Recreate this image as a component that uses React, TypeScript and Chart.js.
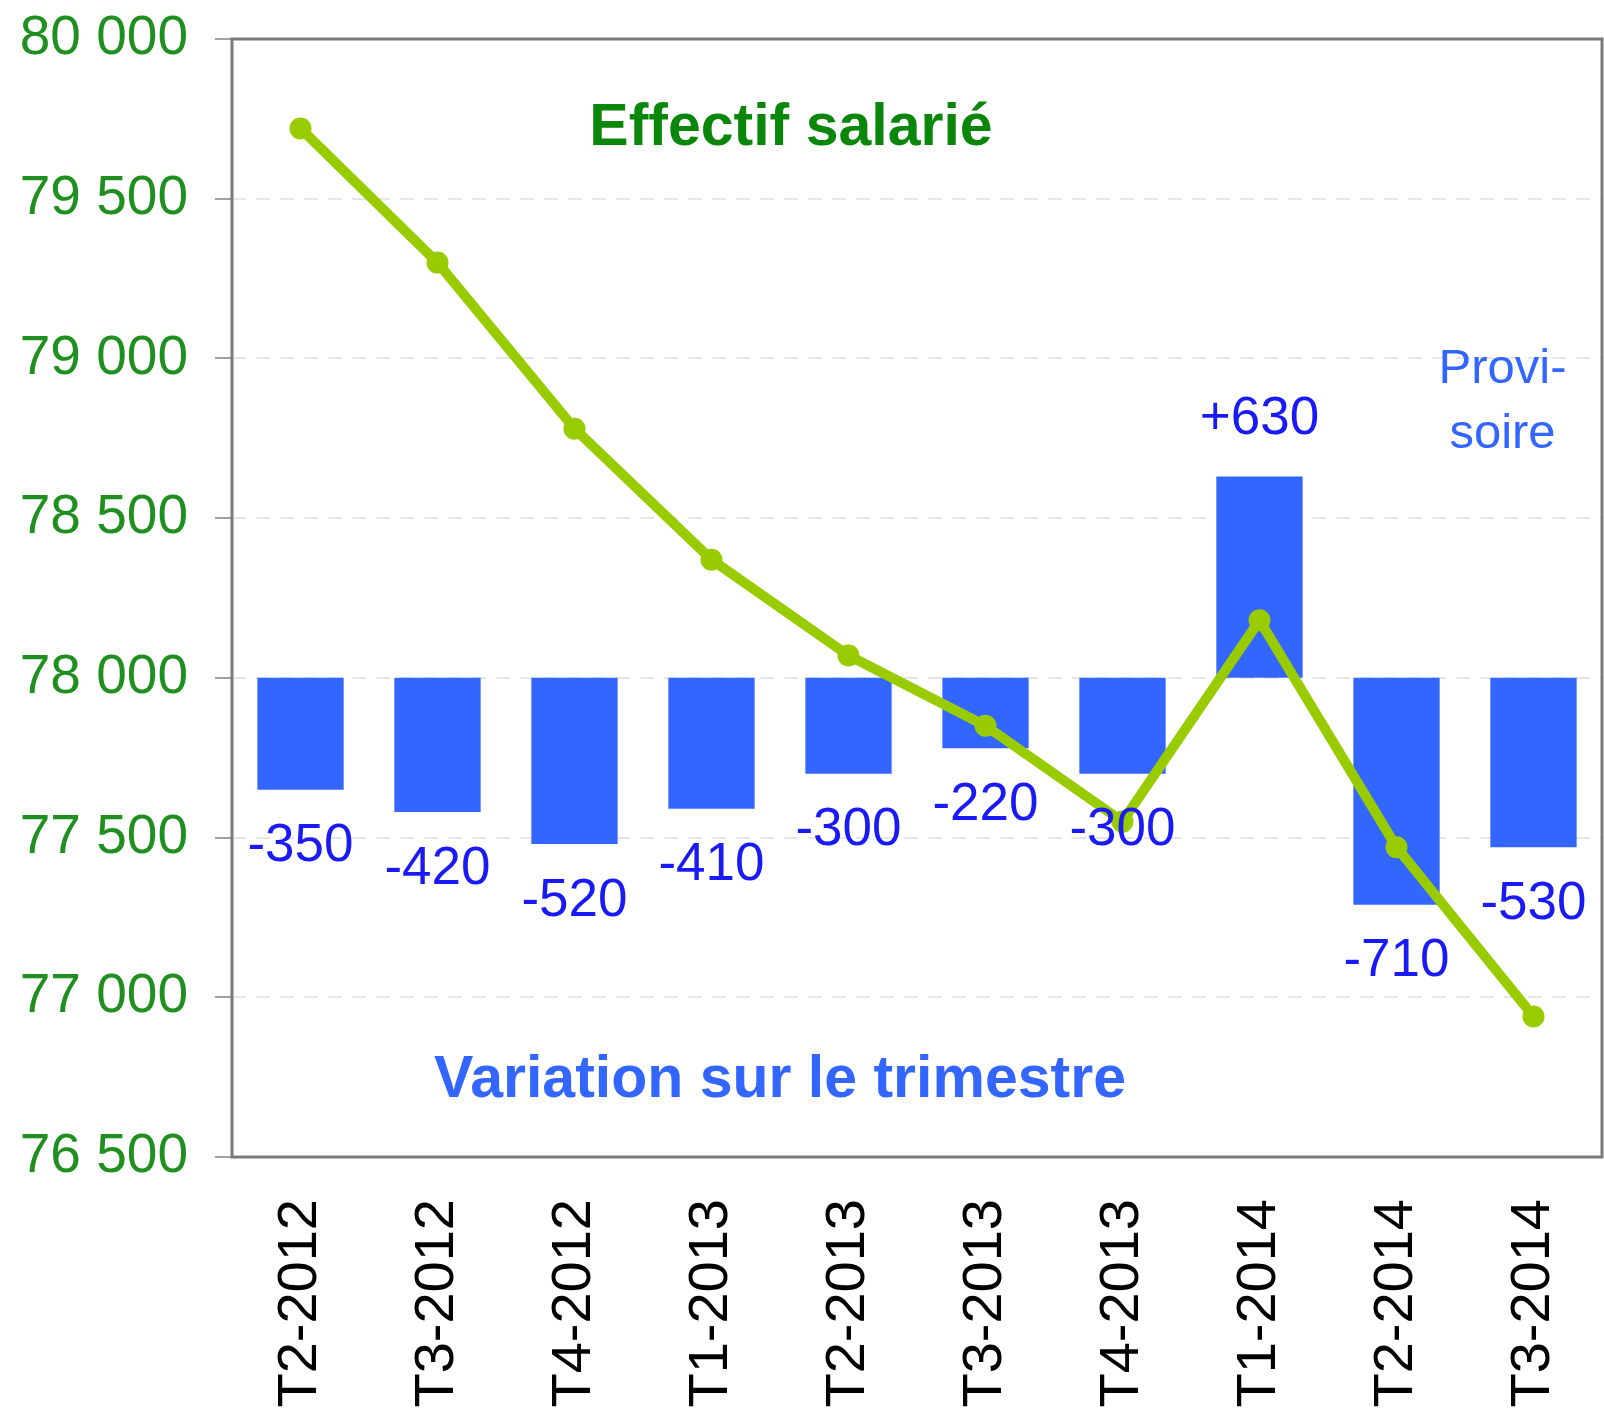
import React, { useEffect, useRef } from "react";
import { Chart, registerables } from "chart.js";

Chart.register(...registerables);

const categories = ["T2-2012", "T3-2012", "T4-2012", "T1-2013", "T2-2013", "T3-2013", "T4-2013", "T1-2014", "T2-2014", "T3-2014"];
const effectif = [79720, 79300, 78780, 78370, 78070, 77850, 77550, 78180, 77470, 76940];
const variation = [-350, -420, -520, -410, -300, -220, -300, 630, -710, -530];
const baseline = 78000;
const yMin = 76500;
const yMax = 80000;
const yStep = 500;

const FONT = "'Liberation Sans', Arial, sans-serif";

const fmt = (v: number) => {
  const s = Math.round(v).toString();
  return s.replace(/\B(?=(\d{3})+(?!\d))/g, " ");
};

const zeroPad = (s: any) => {
  s.paddingLeft = 0;
  s.paddingRight = 0;
  s.paddingTop = 0;
  s.paddingBottom = 0;
};

const decorPlugin = {
  id: "decor",
  beforeDatasetsDraw(chart: any) {
    const { ctx, chartArea } = chart;
    ctx.save();
    ctx.strokeStyle = "#7a7a7a";
    ctx.lineWidth = 3;
    ctx.strokeRect(chartArea.left, chartArea.top, chartArea.right - chartArea.left, chartArea.bottom - chartArea.top);
    ctx.restore();
  },
  afterDatasetsDraw(chart: any) {
    const { ctx, chartArea, scales } = chart;
    const x = scales.x;
    const y = scales.y;
    ctx.save();
    // bar labels
    ctx.fillStyle = "#1a1af5";
    ctx.font = `53px ${FONT}`;
    ctx.textAlign = "center";
    ctx.textBaseline = "middle";
    variation.forEach((v, i) => {
      const px = x.getPixelForValue(i);
      const end = y.getPixelForValue(baseline + v);
      const py = v < 0 ? end + 57 : end - 57;
      const label = v > 0 ? `+${v}` : `${v}`;
      ctx.fillText(label, px, py);
    });
    // annotations
    const w = chartArea.right - chartArea.left;
    ctx.font = `bold 59px ${FONT}`;
    ctx.fillStyle = "#0a870a";
    ctx.fillText("Effectif salarié", chartArea.left + w * 0.408, chartArea.top + 90);
    ctx.fillStyle = "#3366ff";
    ctx.fillText("Variation sur le trimestre", chartArea.left + w * 0.4, chartArea.bottom - 76);
    ctx.font = `49px ${FONT}`;
    ctx.fillText("Provi-", x.getPixelForValue(9) - 31, chartArea.top + 330);
    ctx.fillText("soire", x.getPixelForValue(9) - 31, chartArea.top + 395);
    ctx.restore();
  },
};

export default function App() {
  const ref = useRef<HTMLCanvasElement | null>(null);
  useEffect(() => {
    document.body.style.margin = "0";
    if (!ref.current) return;
    const chart = new Chart(ref.current, {
      type: "bar",
      data: {
        labels: categories,
        datasets: [
          {
            type: "line",
            data: effectif,
            borderColor: "#99cc00",
            backgroundColor: "#99cc00",
            borderWidth: 10,
            pointRadius: 11,
            pointBorderWidth: 0,
            pointBackgroundColor: "#99cc00",
            tension: 0,
            order: 0,
          } as any,
          {
            type: "bar",
            data: variation.map((v) => [baseline, baseline + v]),
            backgroundColor: "#3366ff",
            borderWidth: 0,
            categoryPercentage: 1,
            barPercentage: 0.63,
            order: 1,
          } as any,
        ],
      },
      options: {
        animation: false,
        responsive: false,
        layout: { autoPadding: false, padding: { top: 39, right: 2, left: 0, bottom: 0 } },
        plugins: { legend: { display: false }, tooltip: { enabled: false } },
        scales: {
          x: {
            offset: true,
            grid: { display: false, drawTicks: false },
            border: { display: false },
            afterFit: (s: any) => {
              s.height = 254;
              zeroPad(s);
            },
            ticks: {
              maxRotation: 90,
              minRotation: 90,
              padding: 42,
              color: "#000",
              font: { family: FONT, size: 56 },
              autoSkip: false,
            },
          },
          y: {
            min: yMin,
            max: yMax,
            afterFit: (s: any) => {
              s.width = 232;
              zeroPad(s);
            },
            border: { display: false, dash: [14, 10] },
            grid: {
              color: (c: any) => (c.tick && (c.tick.value === yMin || c.tick.value === yMax) ? "rgba(0,0,0,0)" : "#e6e6e6"),
              lineWidth: 2,
              tickLength: 17,
              tickColor: "#a0a0a0",
              tickWidth: 2,
              tickBorderDash: [],
            } as any,
            ticks: {
              stepSize: yStep,
              padding: 27,
              color: "#1f8f1f",
              font: { family: FONT, size: 55 },
              callback: (v: any) => fmt(Number(v)),
            },
          },
        },
      },
      plugins: [decorPlugin],
    });
    return () => chart.destroy();
  }, []);
  return (
    <div style={{ width: 1604, height: 1411 }}>
      <canvas ref={ref} width={1604} height={1411} style={{ display: "block" }} />
    </div>
  );
}
